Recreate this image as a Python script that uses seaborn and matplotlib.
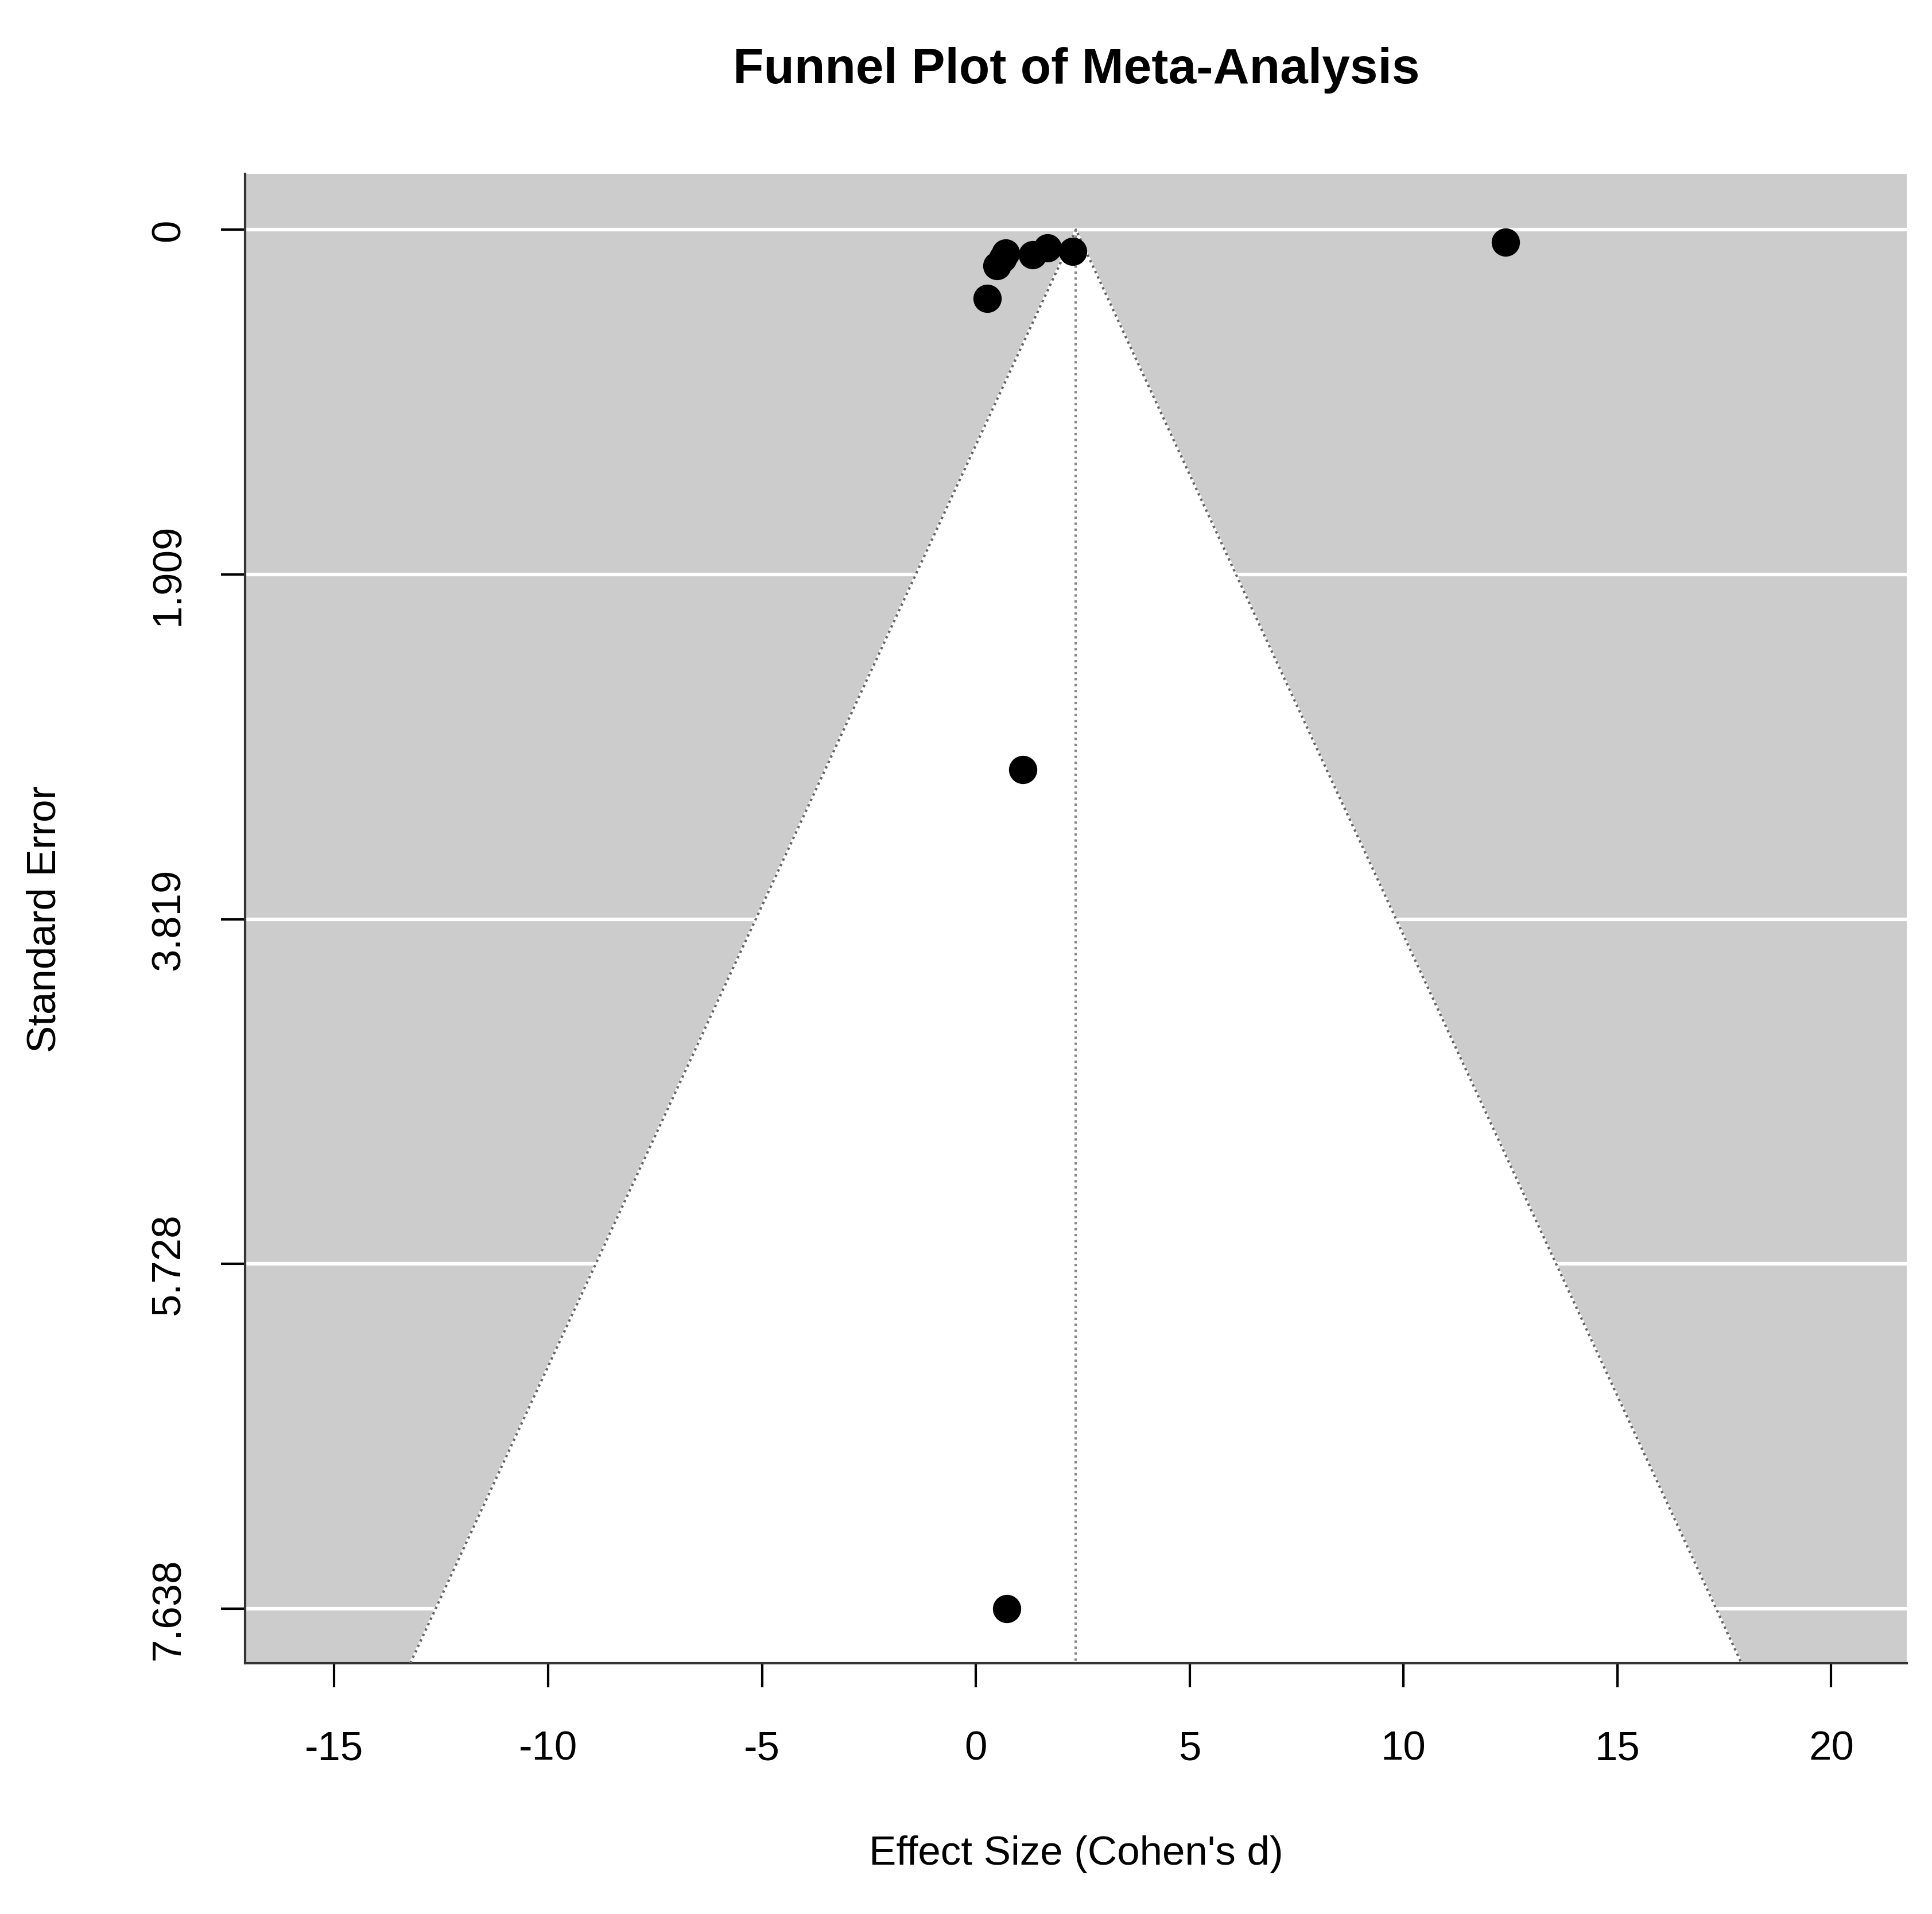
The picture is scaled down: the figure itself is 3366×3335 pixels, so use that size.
import matplotlib
matplotlib.use("Agg")
import matplotlib.pyplot as plt
import seaborn as sns

# study effect sizes and standard errors
effect_size = [0.26, 0.49, 0.69, 0.63, 1.33, 1.68, 2.26, 12.39, 1.10, 0.72]
std_error = [0.38, 0.20, 0.13, 0.16, 0.14, 0.10, 0.12, 0.07, 2.99, 7.638]
pooled_effect = 2.34
se_ticks = [0, 1.909, 3.819, 5.728, 7.638]
x_ticks = [-15, -10, -5, 0, 5, 10, 15, 20]

sns.set_style("white")
plt.rcParams["font.family"] = ["Liberation Sans", "DejaVu Sans"]
plt.rcParams["axes.unicode_minus"] = False
plt.rcParams["text.color"] = "black"
plt.rcParams["axes.labelcolor"] = "black"

fig = plt.figure(figsize=(11.22, 11.12), dpi=300)
ax = fig.add_axes([0.127, 0.131, 0.86, 0.778])

xlim = (-17.08, 21.77)
ylim = (7.94, -0.31)
ax.set_xlim(xlim)
ax.set_ylim(ylim)
ax.set_facecolor("#cccccc")

# white horizontal grid lines at tick positions
for t in se_ticks:
    ax.axhline(t, color="white", lw=1.5, zorder=1)

# funnel region (95% pseudo confidence)
se_max = ylim[0]
left_edge = pooled_effect - 1.96 * se_max
right_edge = pooled_effect + 1.96 * se_max
ax.fill([pooled_effect, left_edge, right_edge], [0, se_max, se_max],
        color="white", zorder=2)
ax.plot([left_edge, pooled_effect, right_edge], [se_max, 0, se_max],
        color="#666666", ls=(0, (1, 1.5)), lw=1.0, zorder=3)
ax.plot([pooled_effect, pooled_effect], [0, se_max],
        color="#888888", ls=(0, (1, 1.5)), lw=1.0, zorder=3)

sns.scatterplot(x=effect_size, y=std_error, ax=ax, color="black", s=120,
                edgecolor="black", zorder=5, legend=False)

ax.set_xticks(x_ticks)
ax.set_yticks(se_ticks)
ax.set_yticklabels([f"{t:g}" if t == 0 else f"{t:.3f}" for t in se_ticks],
                   rotation=90, va="center")
ax.tick_params(axis="both", labelsize=17, direction="out", length=10,
               width=1, colors="black", left=True, bottom=True)
ax.tick_params(axis="x", pad=18)
ax.tick_params(axis="y", pad=14)

for side in ["top", "right"]:
    ax.spines[side].set_visible(False)
for side in ["left", "bottom"]:
    ax.spines[side].set_color("#333333")
    ax.spines[side].set_linewidth(1)

ax.set_xlabel("Effect Size (Cohen's d)", fontsize=17, labelpad=28)
ax.set_ylabel("Standard Error", fontsize=17, labelpad=36)
ax.set_title("Funnel Plot of Meta-Analysis", fontsize=21, fontweight="bold",
             pad=38)

fig.savefig("out.png", dpi=300)
